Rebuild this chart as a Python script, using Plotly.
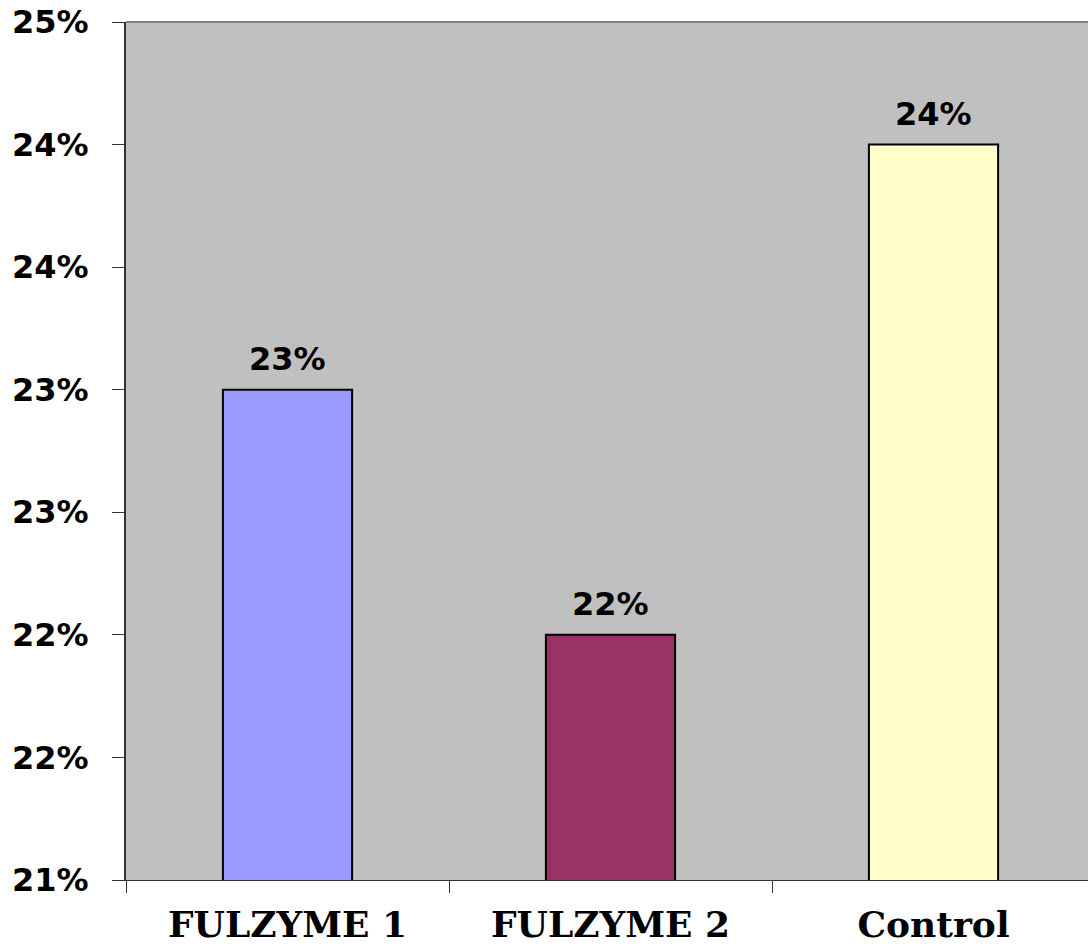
import plotly.graph_objects as go

categories = ["FULZYME 1", "FULZYME 2", "Control"]
values = [0.23, 0.22, 0.24]
value_labels = ["23%", "22%", "24%"]
bar_colors = ["#9999FF", "#993366", "#FFFFCC"]
y_tickvals = [0.21, 0.215, 0.22, 0.225, 0.23, 0.235, 0.24, 0.245]
y_ticktext = ["21%", "22%", "22%", "23%", "23%", "24%", "24%", "25%"]

W, H = 1088, 951
left, top, bottom = 126, 22, 71
plot_w = W - left
cat_w = 323.0

fig = go.Figure()
fig.add_trace(go.Bar(
    x=categories,
    y=values,
    marker=dict(color=bar_colors, line=dict(color="black", width=2)),
    width=0.4,
    hoverinfo="x+y",
))

annotations = [
    dict(x=c, y=v, xref="x", yref="y", text=t, showarrow=False,
         yanchor="bottom", yshift=10,
         font=dict(family="DejaVu Sans", size=32, color="black", weight="bold"))
    for c, v, t in zip(categories, values, value_labels)
]

fig.update_layout(
    width=W, height=H,
    margin=dict(l=left, r=0, t=top, b=bottom, pad=0),
    paper_bgcolor="white",
    plot_bgcolor="#C0C0C0",
    showlegend=False,
    xaxis=dict(
        type="category",
        automargin=False,
        range=[-0.5, -0.5 + plot_w / cat_w],
        tickson="boundaries",
        ticks="outside", ticklen=12, tickcolor="#333333", tickwidth=1,
        showline=True, linecolor="#333333", linewidth=1,
        showgrid=False,
        tickfont=dict(family="DejaVu Serif", size=36, color="black", weight="bold"),
        ticklabelstandoff=13,
        ticklabeloverflow="allow",
    ),
    yaxis=dict(
        automargin=False,
        range=[0.21, 0.245],
        tickvals=y_tickvals,
        ticktext=y_ticktext,
        ticks="outside", ticklen=12, tickcolor="#333333", tickwidth=1,
        showline=True, linecolor="#333333", linewidth=2,
        showgrid=False, zeroline=False,
        tickfont=dict(family="DejaVu Sans", size=32, color="black", weight="bold"),
        ticklabelstandoff=17,
        ticklabeloverflow="allow",
    ),
    annotations=annotations,
    shapes=[dict(type="line", xref="paper", yref="paper", x0=0, x1=1, y0=1, y1=1,
                 line=dict(color="#808080", width=2))],
)

fig.write_html(
    "out.html",
    config={"displayModeBar": False},
    post_script="document.body.style.margin='0';document.body.style.overflow='hidden';",
)
